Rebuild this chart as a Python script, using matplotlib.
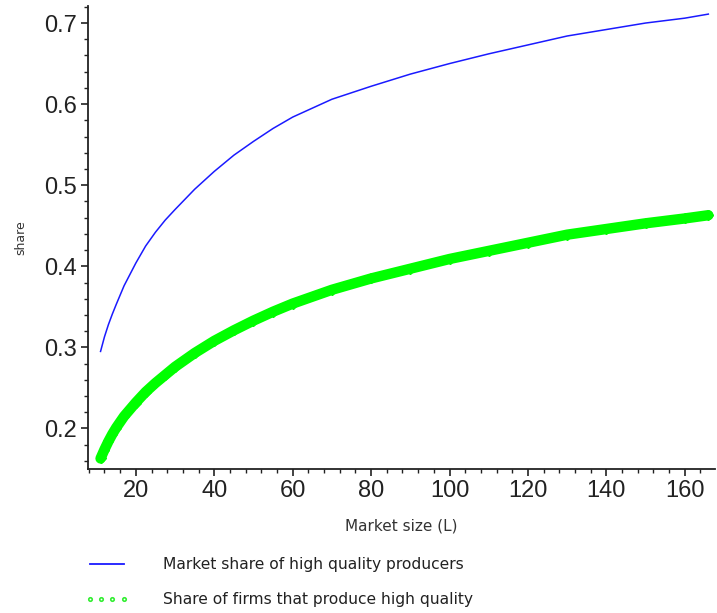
import matplotlib
matplotlib.use("Agg")
import matplotlib.pyplot as plt
from matplotlib.lines import Line2D
from matplotlib.ticker import MultipleLocator

# market size L
market_size = [11, 12, 13, 14, 15, 17, 20, 22.5, 25, 27.5, 30, 35, 40, 45,
               50, 55, 60, 70, 80, 90, 100, 110, 120, 130, 140, 150, 160, 166]
# market share of high quality producers
share_high_market = [0.295, 0.313, 0.328, 0.341, 0.353, 0.376, 0.404, 0.425,
                     0.442, 0.457, 0.470, 0.495, 0.517, 0.537, 0.554, 0.570,
                     0.584, 0.606, 0.622, 0.637, 0.650, 0.662, 0.673, 0.684,
                     0.692, 0.700, 0.706, 0.711]
# share of firms that produce high quality
share_high_firms = [0.163, 0.174, 0.184, 0.193, 0.201, 0.215, 0.232, 0.245,
                    0.256, 0.266, 0.276, 0.293, 0.308, 0.321, 0.333, 0.344,
                    0.354, 0.371, 0.385, 0.397, 0.409, 0.419, 0.429, 0.439,
                    0.446, 0.453, 0.459, 0.463]

labels = ["Market share of high quality producers",
          "Share of firms that produce high quality"]

plt.rcParams["font.family"] = ["Liberation Sans", "DejaVu Sans"]

fig = plt.figure(figsize=(7.17, 6.13), dpi=100)
ax = fig.add_axes([88 / 717, 1 - 469 / 613, (715 - 88) / 717, (469 - 6) / 613])

ax.plot(market_size, share_high_firms, color="#00ff00", lw=7.5,
        solid_capstyle="round", marker="D", ms=5.5, mec="#00ff00", mfc="#00ff00")
ax.plot(market_size, share_high_market, color="#1a1aff", lw=1.1)

ax.set_xlim(7.8, 167.7)
ax.set_ylim(0.150, 0.721)

ax.xaxis.set_minor_locator(MultipleLocator(4))
ax.yaxis.set_minor_locator(MultipleLocator(0.02))
ax.set_xticks(range(20, 161, 20))
ax.set_yticks([0.2, 0.3, 0.4, 0.5, 0.6, 0.7])

for s in ["top", "right"]:
    ax.spines[s].set_visible(False)
for s in ["left", "bottom"]:
    ax.spines[s].set_linewidth(1.3)
    ax.spines[s].set_color("#222222")

ax.tick_params(which="major", direction="out", length=5, width=1.2,
               labelsize=17, pad=3, colors="#222222")
ax.tick_params(which="minor", direction="out", length=3, width=1.0,
               colors="#222222")

ax.set_xlabel("Market size (L)", fontsize=11, color="#333333", labelpad=12,
              family="DejaVu Sans")
ax.set_ylabel("share", fontsize=9, color="#333333", labelpad=12,
              family="DejaVu Sans")

handles = [Line2D([], [], color="#1a1aff", lw=1.3),
           Line2D([], [], color="#33ee33", ls="", marker="o", ms=2.5,
                  mfc="none", mew=1.2)]
fig.legend(handles, labels, loc="upper left",
           bbox_to_anchor=(85 / 717, 1 - 557 / 613), frameon=False,
           borderpad=0, borderaxespad=0,
           prop={"family": "DejaVu Sans", "size": 11.2},
           handlelength=2.8, handletextpad=2.2, labelspacing=1.3,
           numpoints=4, labelcolor="#222222")

fig.savefig("out.png", dpi=100)
